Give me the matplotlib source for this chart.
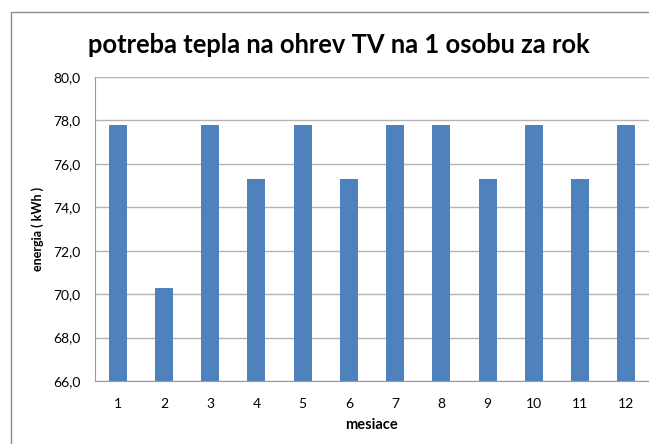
import matplotlib
matplotlib.use("Agg")
import matplotlib.pyplot as plt
from matplotlib.patches import Rectangle
from matplotlib.ticker import FuncFormatter

plt.rcParams["font.family"] = ["Lato", "DejaVu Sans"]

# mesačná potreba tepla na ohrev TV (kWh)
mesiace = ["1", "2", "3", "4", "5", "6", "7", "8", "9", "10", "11", "12"]
energia = [77.8, 70.3, 77.8, 75.3, 77.8, 75.3, 77.8, 77.8, 75.3, 77.8, 75.3, 77.8]

W, H = 649, 444
fig = plt.figure(figsize=(W / 100, H / 100), dpi=100)

# rám grafu (pravý a spodný okraj sú mimo obrázka)
fig.patches.append(Rectangle((10.5 / W, -0.1), 1.2, 1.1 - 12.5 / H,
                             transform=fig.transFigure, fill=False,
                             edgecolor="#8c8c8c", lw=1.0))

left, right, top, bottom = 94.5 / W, 649.5 / W, 1 - 77 / H, 1 - 381 / H
ax = fig.add_axes([left, bottom, right - left, top - bottom])

x = list(range(len(mesiace)))
ax.bar(x, energia, width=0.39, color="#4f81bd", zorder=3)

ax.set_xlim(-0.5, len(mesiace) - 0.5)
ax.set_ylim(66, 80)
ax.set_yticks([66, 68, 70, 72, 74, 76, 78, 80])
ax.yaxis.set_major_formatter(FuncFormatter(lambda v, p: f"{v:.1f}".replace(".", ",")))
ax.set_xticks(x)
ax.set_xticklabels(mesiace)
ax.grid(axis="y", color="#b3b3b3", lw=1.0, zorder=0)
ax.tick_params(axis="both", length=0, labelsize=10, colors="black")
ax.tick_params(axis="y", pad=10)
ax.tick_params(axis="x", pad=12)

for s in ["top", "right"]:
    ax.spines[s].set_visible(False)
ax.spines["left"].set_color("#9a9a9a")
ax.spines["bottom"].set_color("#9a9a9a")

ax.set_xlabel("mesiace", fontsize=10.5, fontweight="bold", labelpad=6)
ax.set_ylabel("energia ( kWh )", fontsize=9, fontweight="bold", labelpad=7)

fig.text(339 / W, 1 - 45 / H, "potreba tepla na ohrev TV na 1 osobu za rok",
         ha="center", va="center", fontsize=18.4, fontweight="bold")

fig.savefig("out.png", dpi=100)
